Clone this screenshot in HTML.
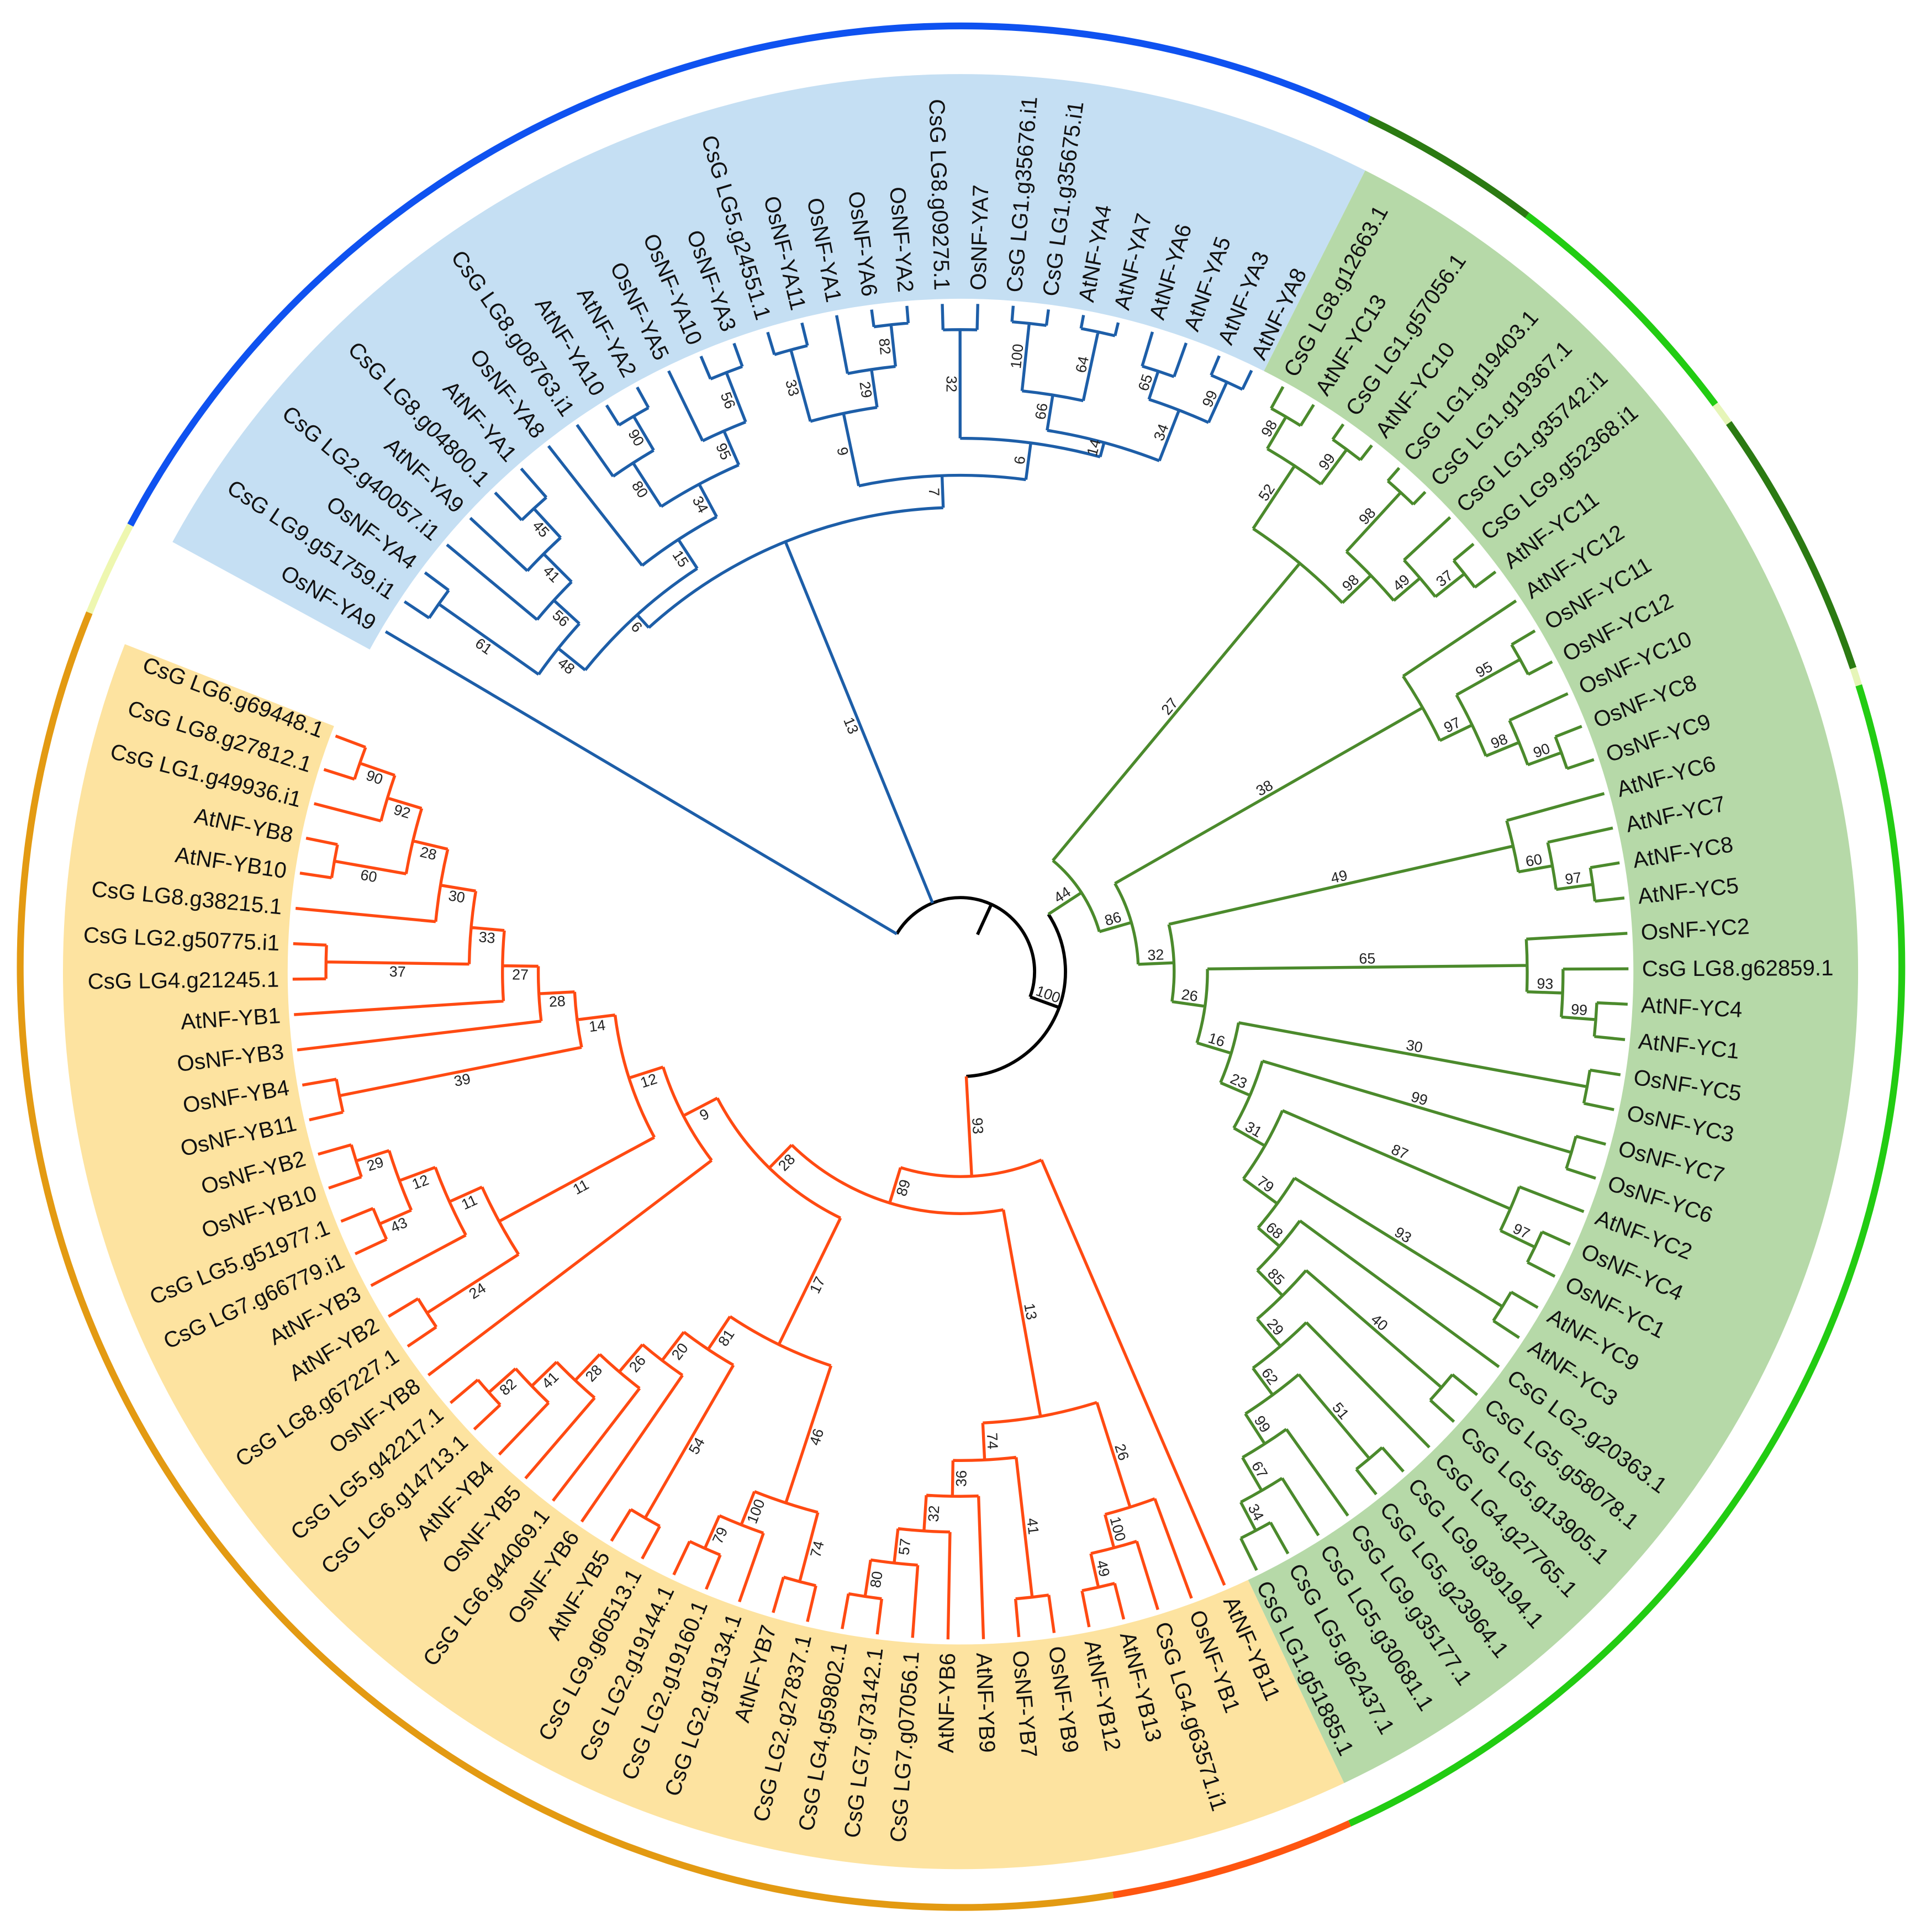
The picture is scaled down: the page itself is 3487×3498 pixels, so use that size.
<!DOCTYPE html>
<html><head><meta charset="utf-8"><style>
html,body{margin:0;padding:0;background:#fff;}
svg{display:block;}
text{font-family:"Liberation Sans",Arial,sans-serif;}
</style></head><body>
<svg id="s" xmlns="http://www.w3.org/2000/svg" width="3487" height="3498" viewBox="0 0 1560 1564.9" preserveAspectRatio="none">
<rect x="0" y="0" width="1560" height="1565" fill="#fff"/>
<g id="shade"></g><g id="ring"></g><g id="tree"></g><g id="txt"></g>
</svg>
<script>
const NS='http://www.w3.org/2000/svg';
const C=[778,787],R=541,LR=552;
const names=["OsNF-YA9","CsG LG9.g51759.i1","OsNF-YA4","CsG LG2.g40057.i1","AtNF-YA9","CsG LG8.g04800.1","AtNF-YA1","OsNF-YA8","CsG LG8.g08763.i1","AtNF-YA10","AtNF-YA2","OsNF-YA5","OsNF-YA10","OsNF-YA3","CsG LG5.g24551.1","OsNF-YA11","OsNF-YA1","OsNF-YA6","OsNF-YA2","CsG LG8.g09275.1","OsNF-YA7","CsG LG1.g35676.i1","CsG LG1.g35675.i1","AtNF-YA4","AtNF-YA7","AtNF-YA6","AtNF-YA5","AtNF-YA3","AtNF-YA8",
"CsG LG8.g12663.1","AtNF-YC13","CsG LG1.g57056.1","AtNF-YC10","CsG LG1.g19403.1","CsG LG1.g19367.1","CsG LG1.g35742.i1","CsG LG9.g52368.i1","AtNF-YC11","AtNF-YC12","OsNF-YC11","OsNF-YC12","OsNF-YC10","OsNF-YC8","OsNF-YC9","AtNF-YC6","AtNF-YC7","AtNF-YC8","AtNF-YC5","OsNF-YC2","CsG LG8.g62859.1","AtNF-YC4","AtNF-YC1","OsNF-YC5","OsNF-YC3","OsNF-YC7","OsNF-YC6","AtNF-YC2","OsNF-YC4","OsNF-YC1","AtNF-YC9","AtNF-YC3","CsG LG2.g20363.1","CsG LG5.g58078.1","CsG LG5.g13905.1","CsG LG4.g27765.1","CsG LG9.g39194.1","CsG LG5.g23964.1","CsG LG9.g35177.1","CsG LG5.g30681.1","CsG LG5.g62437.1","CsG LG1.g51885.1",
"AtNF-YB11","OsNF-YB1","CsG LG4.g63571.i1","AtNF-YB13","AtNF-YB12","OsNF-YB9","OsNF-YB7","AtNF-YB9","AtNF-YB6","CsG LG7.g07056.1","CsG LG7.g73142.1","CsG LG4.g59802.1","CsG LG2.g27837.1","AtNF-YB7","CsG LG2.g19134.1","CsG LG2.g19160.1","CsG LG2.g19144.1","CsG LG9.g60513.1","AtNF-YB5","OsNF-YB6","CsG LG6.g44069.1","OsNF-YB5","AtNF-YB4","CsG LG6.g14713.1","CsG LG5.g42217.1","OsNF-YB8","CsG LG8.g67227.1","AtNF-YB2","AtNF-YB3","CsG LG7.g66779.i1","CsG LG5.g51977.1","OsNF-YB10","OsNF-YB2","OsNF-YB11","OsNF-YB4","OsNF-YB3","AtNF-YB1","CsG LG4.g21245.1","CsG LG2.g50775.i1","CsG LG8.g38215.1","AtNF-YB10","AtNF-YB8","CsG LG1.g49936.i1","CsG LG8.g27812.1","CsG LG6.g69448.1"];

const Bt=[376,'13',
 [390,'6',[418,'48',[517,'61',1,2],[446,'56',3,[478,'41',4,[510,'45',5,6]]]],
   [418,'15',7,[448,'34',[490,'80',8,[522,'90',9,10]],[478,'95',11,[521,'56',12,13]]]]],
 [402,'7',[462,'9',[522,'33',14,15],[493,'29',16,[527,'82',17,18]]],
   [432,'6',[520,'32',19,20],[444,'14',[473,'66',[528,'100',21,22],[530,'64',23,24]],[488,'34',[512,'65',25,26],[524,'99',27,28]]]]]];

const G67=[486,'67',68,[512,'34',69,70]];
const G99=[455,'99',67,G67];
const G62=[426,'62',[515,'51',65,66],G99];
const G29=[399,'29',64,G62];
const G85=[370,'85',[515,'40',62,63],G29];
const G68=[341,'68',61,G85];
const G79=[318,'79',[516,'93',59,60],G68];
const G31=[284,'31',[485,'87',56,[516,'97',57,58]],G79];
const G23=[255,'23',[516,'99',54,55],G31];
const G16=[229,'16',[516,'30',52,53],G23];
const G26=[200,'26',[459,'65',48,[488,'93',49,[516,'99',50,51]]],G16];
const G32=[173,'32',[459,'49',44,[487,'60',45,[517,'97',46,47]]],G26];
const G86=[144,'86',[431,'38',38,[460,'97',[519,'95',39,40],[489,'98',41,[518,'90',42,43]]]],G32];
const G27=[430,'27',[491,'52',[521,'98',29,30],[526,'99',31,32]],[462,'98',[527,'98',33,34],[490,'49',35,[520,'37',36,37]]]];
const Gt=[117,'44',G27,G86];

const O14=[313,'14',[342,'28',106,[371,'27',107,[398,'33',[427,'30',110,[456,'28',[515,'60',112,111],[485,'92',113,[515,'90',115,114]]]],[514,'37',109,108]]]],[513,'39',105,104]];
const O11b=[425,'11',[454,'11',[485,'12',[513,'29',103,102],[513,'43',101,100]],99],[513,'24',98,97]];
const O12=[282,'12',O14,O11b];
const O9=[253,'9',O12,96];
const O81=[368,'81',[397,'20',[426,'26',[455,'28',[483,'41',[512,'82',95,94],93],92],91],90],[511,'54',89,88]];
const OX46=[453,'46',[482,'100',[511,'79',87,86],85],[511,'74',84,83]];
const O17=[336,'17',O81,OX46];
const O28=[222,'28',O9,O17];
const O13=[366,'13',[396,'74',[425,'36',[454,'32',[482,'57',[512,'80',82,81],80],79],78],[510,'41',77,76]],[455,'26',[483,'100',[511,'49',75,74],73],72]];
const O89=[196,'89',O28,O13];
const Ot=[166,'93',O89,71];

function P(a,r,c){c=c||C;const t=a*Math.PI/180;return [c[0]+r*Math.cos(t),c[1]+r*Math.sin(t)];}
function f(p){return p[0].toFixed(2)+' '+p[1].toFixed(2);}
function el(tag,at,par,txt){const e=document.createElementNS(NS,tag);for(const k in at)e.setAttribute(k,at[k]);if(txt!==undefined)e.textContent=txt;par.appendChild(e);return e;}
function arc(r,a1,a2,c){if(a2<a1){const t=a1;a1=a2;a2=t;}return 'M'+f(P(a1,r,c))+'A'+r+' '+r+' 0 '+((a2-a1)>180?1:0)+' 1 '+f(P(a2,r,c));}
function seg(a,r1,r2){return 'M'+f(P(a,r1))+'L'+f(P(a,r2));}
function sector(r1,r2,a1,a2){return 'M'+f(P(a1,r2))+'A'+r2+' '+r2+' 0 '+((a2-a1)>180?1:0)+' 1 '+f(P(a2,r2))+'L'+f(P(a2,r1))+'A'+r1+' '+r1+' 0 '+((a2-a1)>180?1:0)+' 0 '+f(P(a1,r1))+'Z';}
function lay(n){if(typeof n==='number')return {a:210.6+n*3.044,r:R,leaf:true,i:n};const o={r:n[0],lab:n[1],ch:n.slice(2).map(lay)};const as=o.ch.map(c=>c.a);o.min=Math.min(...as);o.max=Math.max(...as);o.a=(o.min+o.max)/2;return o;}

const shade=document.getElementById('shade'),ring=document.getElementById('ring'),tree=document.getElementById('tree'),txt=document.getElementById('txt');
el('path',{d:sector(545,727,208.6,296.8),fill:'#c5dff3'},shade);
el('path',{d:sector(545,727,296.8,424.7),fill:'#b6d9a8'},shade);
el('path',{d:sector(545,727,424.7,561.4),fill:'#fde3a0'},shade);
const RC=[778.4,783],RR=762;
[[202.1,208.0,'#eef7b0'],[208.0,295.7,'#0f52f0'],[295.7,307,'#2b7a12'],[307,323.3,'#22cc12'],[323.3,324.7,'#e6f5b8'],[324.7,341.5,'#2b7a12'],[341.5,342.6,'#e6f5b8'],[342.6,425.6,'#22cc12'],[425.6,440.7,'#ff5510'],[440.7,562.1,'#e39a12']].forEach(s=>{el('path',{d:arc(RR,s[0],s[1],RC),fill:'none',stroke:s[2],'stroke-width':5.5},ring);});

function blab(t,a,r){const th=a*Math.PI/180;const p=P(a,r);const x=p[0]+7*Math.sin(th),y=p[1]-7*Math.cos(th);let n=((a%360)+360)%360;let rot=(n>90&&n<270)?n-180:n;el('text',{x:x.toFixed(2),y:y.toFixed(2),'font-size':12,fill:'#222','text-anchor':'middle','dominant-baseline':'central',transform:'rotate('+rot.toFixed(2)+' '+x.toFixed(2)+' '+y.toFixed(2)+')'},txt,t);}

function draw(o,acc){acc.push(arc(o.r,o.min,o.max));for(const c of o.ch){acc.push(seg(c.a,o.r,c.r));if(!c.leaf){blab(c.lab,c.a,(o.r+c.r)/2);draw(c,acc);}}}

const B=lay(Bt),G=lay(Gt),O=lay(Ot),L0=lay(0);
const blk=[arc(60,210.6,380),arc(85,G.a,O.a),seg(380,60,85),seg(294.6,60,33)];
el('path',{d:blk.join(''),fill:'none',stroke:'#000','stroke-width':2.6},tree);
const bl=[seg(L0.a,60,R),seg(B.a,60,B.r)];draw(B,bl);
el('path',{d:bl.join(''),fill:'none',stroke:'#1d5ea8','stroke-width':2.4},tree);
const gr=[seg(G.a,85,G.r)];draw(G,gr);
el('path',{d:gr.join(''),fill:'none',stroke:'#4b8a2c','stroke-width':2.4},tree);
const og=[seg(O.a,85,O.r)];draw(O,og);
el('path',{d:og.join(''),fill:'none',stroke:'#ff4a12','stroke-width':2.4},tree);
blab('13',B.a,(60+B.r)/2);blab('44',G.a,(85+G.r)/2+2);blab('93',O.a,(85+O.r)/2);blab('100',380,73);

for(let i=0;i<names.length;i++){const a=210.6+i*3.044;const n=((a%360)+360)%360;const p=P(a,LR);const left=(n>90&&n<270);const rot=left?n-180:n;
el('text',{x:p[0].toFixed(2),y:p[1].toFixed(2),'font-size':18,fill:'#111','text-anchor':left?'end':'start','dominant-baseline':'central',transform:'rotate('+rot.toFixed(2)+' '+p[0].toFixed(2)+' '+p[1].toFixed(2)+')'},txt,names[i]);}
</script>
</body></html>
